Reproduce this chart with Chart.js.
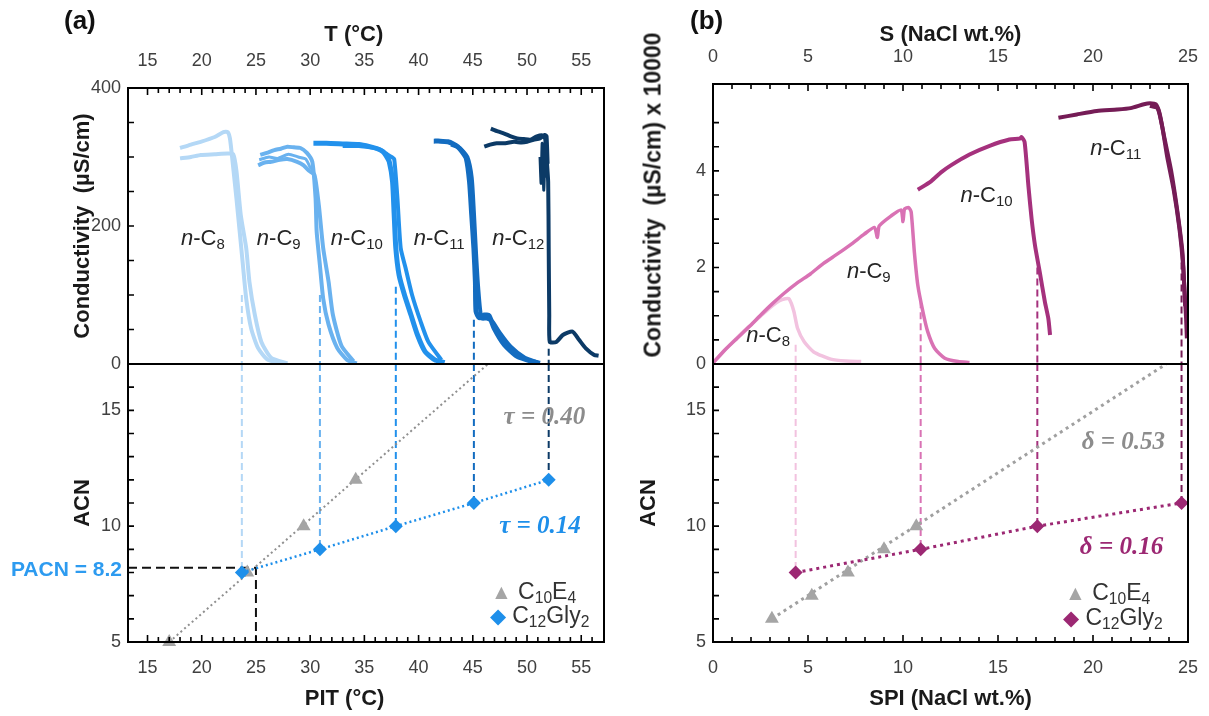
<!DOCTYPE html>
<html>
<head>
<meta charset="utf-8">
<script src="https://cdn.jsdelivr.net/npm/chart.js@4.4.1/dist/chart.umd.min.js"></script>
<style>
  body { margin: 0; background: #fff; font-family: "Liberation Sans", Arial, sans-serif; }
  #wrap { position: relative; width: 1209px; height: 716px; overflow: hidden; }
  #wrap canvas { position: absolute; top: 0; }
  .lbl { position: absolute; white-space: nowrap; line-height: 1; color: #262626; font-size: 22px; }
  .lbl sub { font-size: 0.68em; vertical-align: -0.3em; line-height: 0; }
  .panel { position: absolute; top: 5px; font-weight: bold; font-size: 26px; color: #111; }
  .coef { font-family: "Liberation Serif", "DejaVu Serif", serif; font-weight: bold; font-style: italic; font-size: 25px; }
  .ytitle { position: absolute; font-weight: bold; font-size: 23px; color: #1a1a1a; white-space: pre;
            transform: translate(-50%, -50%) rotate(-90deg); }
</style>
</head>
<body>
<div id="wrap">
  <canvas id="chartA" width="625" height="716" style="left:0"></canvas>
  <canvas id="chartB" width="584" height="716" style="left:625px"></canvas>
  <div class="panel" style="left:64px">(a)</div>
  <div class="panel" style="left:690px">(b)</div>
  <div class="ytitle" style="left:653px;top:195px">Conductivity  (µS/cm) x 10000</div>
</div>
<script>
// ── Panel (a): conductivity vs T (°C) for C12Gly2 with n-alkanes ─────────
const tC8a = [18.0, 19.0, 19.9, 21.2, 22.0, 22.4, 22.6, 22.8, 23.2, 23.5, 23.8, 24.1, 24.55, 25.2, 26.1, 27.6];
const kC8a = [313, 318, 322, 329, 336, 336, 327, 300, 240, 192, 143, 95, 52, 23, 6, 1];
const tC8b = [18.0, 19.0, 19.9, 21.2, 22.4, 22.9, 23.2, 23.6, 24.1, 24.4, 24.9, 25.5, 26.4, 27.9];
const kC8b = [298, 300, 303, 304, 305, 304, 280, 216, 168, 119, 71, 32, 9, 1];

const tC9a = [25.4, 26.0, 26.7, 27.3, 27.9, 28.5, 29.1, 29.7, 30.2, 30.5, 30.6, 30.9, 31.2, 31.7, 32.5, 33.4, 34.3];
const kC9a = [303, 306, 310, 312, 315, 314, 313, 306, 293, 240, 192, 143, 95, 57, 23, 6, 1];
const tC9b = [25.2, 25.8, 26.4, 27.2, 27.9, 28.8, 29.4, 29.9, 30.4, 30.8, 31.2, 31.7, 32.1, 32.9, 34.0];
const kC9b = [288, 292, 293, 296, 297, 293, 288, 280, 274, 230, 168, 119, 71, 26, 4];
const tC9c = [25.3, 26.2, 27.0, 28.0, 28.9, 29.6, 30.0, 30.3, 30.6];
const kC9c = [296, 300, 298, 304, 300, 297, 285, 280, 230];

const tC10a = [30.3, 31.5, 33.0, 34.5, 35.5, 36.2, 36.7, 37.0, 37.3, 37.6, 37.75, 37.9, 38.2, 38.7, 39.3, 39.9, 40.6, 41.5, 42.4];
const kC10a = [320, 320, 319, 318, 315, 312, 308, 302, 293, 264, 216, 168, 129, 100, 71, 42, 18, 6, 2];
const tC10b = [33.0, 34.5, 35.5, 36.4, 37.0, 37.5, 37.75, 38.05, 38.35, 38.8, 39.4, 40.2, 40.9, 42.1];
const kC10b = [316, 316, 314, 311, 305, 300, 297, 240, 168, 139, 100, 61, 32, 6];

const tC11a = [41.4, 42.0, 42.7, 43.2, 43.6, 44.0, 44.4, 44.7, 44.9, 45.1, 45.24, 45.3, 45.6, 46.06, 46.5, 46.96, 47.9, 49.1, 50.6, 51.2];
const kC11a = [323, 323, 322, 319, 315, 308, 298, 264, 216, 168, 119, 76, 67, 71, 70, 52, 28, 11, 3, 1];
const tC11b = [43.0, 43.8, 44.5, 44.9, 45.1, 45.3, 45.5, 45.8, 46.3, 46.8, 47.5, 48.5, 49.8, 51.0];
const kC11b = [318, 313, 300, 270, 220, 160, 110, 66, 66, 62, 45, 25, 9, 2];

const tC12a = [46.66, 47.3, 47.9, 48.5, 49.1, 49.7, 50.3, 50.9, 51.5, 51.7, 51.8, 51.95, 52.0, 52.05, 52.1, 52.7, 53.3, 54.2, 54.8, 55.4, 56.2, 56.6];
const kC12a = [341, 337, 334, 330, 327, 326, 325, 330, 331, 325, 300, 264, 168, 71, 32, 32, 42, 47, 35, 23, 13, 12];
const tC12b = [46.06, 46.6, 47.2, 48.0, 48.8, 49.5, 50.0, 50.6, 51.2, 51.65, 51.8, 51.9];
const kC12b = [315, 318, 320, 320, 322, 321, 322, 325, 327, 332, 330, 290];
const tC12c = [51.2, 51.3, 51.4, 51.55, 51.7, 51.85];
const kC12c = [300, 262, 320, 252, 330, 270];

// PIT per alkane and where the dashed drop line meets each curve
const pitA = [23.7, 30.9, 37.9, 45.1, 52.0];
const acnA = [8, 9, 10, 11, 12];
const dashTopA = [100, 100, 112, 64, 22];
const alkColA = ['#B4D8F6', '#6AB2EF', '#2291EC', '#136CC0', '#0C3A66'];

// C10E4 reference (triangles) and its linear fit
const pitRefA = [17.0, 24.2, 29.4, 34.2];
const acnRefA = [5, 8, 10, 12];
const fitRefTA = [17.0, 46.4];
const fitRefNA = [5, 17];
// PACN construction
const pacnT = [13.2, 25, 25];
const pacnN = [8.2, 8.2, 5];

// ── Panel (b): conductivity (x 10000) vs S (NaCl wt.%) ──────────────────
const sB8 = [0, 0.6, 1.2, 1.9, 2.5, 3.1, 3.5, 3.8, 4.0, 4.25, 4.45, 4.8, 5.3, 6.2, 7.0, 7.8];
const gB8 = [0.02, 0.28, 0.52, 0.78, 0.99, 1.2, 1.31, 1.35, 1.35, 1.1, 0.74, 0.46, 0.25, 0.1, 0.06, 0.05];
const sB9 = [0, 0.6, 1.26, 1.9, 2.5, 3.1, 3.73, 4.4, 5.14, 5.8, 6.55, 7.3, 7.96, 8.5, 8.65, 8.75, 9.38, 9.9, 10.0, 10.08, 10.3, 10.43, 10.6, 10.78, 11.05, 11.3, 11.67, 12.2, 12.9, 13.5];
const gB9 = [0.02, 0.28, 0.53, 0.77, 1.01, 1.24, 1.46, 1.67, 1.87, 2.08, 2.28, 2.49, 2.69, 2.83, 2.62, 2.86, 3.07, 3.19, 2.95, 3.21, 3.24, 3.15, 2.31, 1.63, 1.08, 0.67, 0.32, 0.12, 0.05, 0.03];
const sB10 = [10.78, 11.49, 12.0, 12.54, 13.5, 14.56, 15.6, 16.15, 16.24, 16.4, 16.6, 16.77, 16.95, 17.2, 17.47, 17.65, 17.74];
const gB10 = [3.61, 3.79, 3.97, 4.12, 4.34, 4.52, 4.65, 4.67, 4.7, 4.6, 3.69, 3.0, 2.45, 1.9, 1.28, 0.94, 0.6];
const sB11a = [18.18, 19.15, 20.2, 21.27, 21.98, 22.68, 23.0, 23.3, 23.5, 23.74, 24.1, 24.45, 24.71, 24.8, 24.9, 24.94];
const gB11a = [5.1, 5.17, 5.24, 5.27, 5.3, 5.38, 5.4, 5.38, 5.2, 4.72, 4.03, 3.14, 2.31, 1.63, 0.94, 0.53];
const sB11b = [23.0, 23.4, 23.65, 23.9, 24.25, 24.55, 24.75, 24.85];
const gB11b = [5.35, 5.3, 4.9, 4.3, 3.6, 2.8, 2.0, 1.2];

const spiB = [4.35, 10.93, 17.07, 24.66];
const acnB = [8, 9, 10, 11];
const dashTopB = [0.4, 1.3, 2.0, 2.1];
const alkColB = ['#F2C2DF', '#D972B4', '#A5317D', '#751C56'];

const spiRefB = [3.1, 5.2, 7.1, 9.0, 10.7];
const acnRefB = [6, 7, 8, 9, 10];
const fitRefSB = [3.1, 23.85];
const fitRefNB = [6, 17];

// ── Text annotations (data coordinates) ────────────────────────────────
const alkSubA = ['8', '9', '10', '11', '12'];
const alkLblTA = [20.1, 27.1, 34.3, 41.9, 49.2];
const alkLblKA = [182, 182, 182, 182, 182];
const alkSubB = ['8', '9', '10', '11'];
const alkLblSB = [2.9, 8.2, 14.4, 21.2];
const alkLblKB = [0.6, 1.93, 3.5, 4.47];

const GREY = '#A5A5A5';
const BLUE = '#1E8FEA';
const PLUM = '#9C2873';
const NB = '\u00a0';

const pts = (xs, ys) => xs.map((x, i) => ({ x, y: ys[i] }));

const curve = (xs, ys, color, w) => ({
  data: pts(xs, ys), showLine: true, borderColor: color, borderWidth: w || 4,
  pointRadius: 0, tension: 0.2, xAxisID: 'xT', yAxisID: 'yC'
});
const dashed = (x, y0, y1, color, upper) => ({
  data: pts([x, x], [y0, y1]), showLine: true, borderColor: color, borderWidth: 2,
  borderDash: [7, 4], pointRadius: 0, xAxisID: upper ? 'xT' : 'xB', yAxisID: upper ? 'yC' : 'yA'
});

// inside tick marks, frame and the zero line between the two halves
const framePlugin = {
  id: 'frame',
  afterDatasetsDraw(chart, args, o) {
    const { ctx, chartArea: a, scales: s } = chart;
    const on = (v, st) => Math.abs(v / st - Math.round(v / st)) < 1e-6;
    ctx.save();
    ctx.strokeStyle = '#000';
    ctx.lineWidth = 2;
    ctx.strokeRect(a.left, a.top, a.width, a.height);
    const y0 = s.yC.getPixelForValue(0);
    ctx.beginPath(); ctx.moveTo(a.left, y0); ctx.lineTo(a.right, y0); ctx.stroke();
    ctx.lineWidth = 1.6;
    ctx.beginPath();
    s.xT.ticks.forEach(t => {
      if (!on(t.value, 1)) return;
      const x = s.xT.getPixelForValue(t.value), len = on(t.value, 5) ? 7 : 5;
      ctx.moveTo(x, a.top); ctx.lineTo(x, a.top + len);
    });
    s.xB.ticks.forEach(t => {
      if (!on(t.value, 1)) return;
      const x = s.xB.getPixelForValue(t.value), len = on(t.value, 5) ? 7 : 5;
      ctx.moveTo(x, a.bottom); ctx.lineTo(x, a.bottom - len);
    });
    [['yC', o.cStep], ['yA', 1]].forEach(([id, st]) => {
      s[id].ticks.forEach(t => {
        if (!on(t.value, st)) return;
        const y = s[id].getPixelForValue(t.value);
        ctx.moveTo(a.left, y); ctx.lineTo(a.left + 6, y);
      });
    });
    ctx.stroke();
    ctx.restore();
  }
};

const tickFont = { family: 'Liberation Sans', size: 18 };
const titleFont = { family: 'Liberation Sans', size: 22, weight: 'bold' };
const onFive = v => Math.abs(v / 5 - Math.round(v / 5)) < 1e-6;

function makePanel(id, p) {
  const xScale = (pos, title) => ({
    type: 'linear', position: pos, min: p.xMin, max: p.xMax,
    grid: { display: false, drawTicks: false }, border: { display: false },
    ticks: { stepSize: 1, autoSkip: false, maxRotation: 0, color: '#404040', font: tickFont,
             padding: pos === 'top' ? 16 : 15, callback: v => (onFive(v) ? Math.round(v) : '') },
    title: { display: true, text: title, color: '#1a1a1a', font: titleFont },
    afterFit: s => {
      s.height = pos === 'top' ? p.topH : p.botH;
      s.paddingLeft = 0; s.paddingRight = 0;
    }
  });
  const yBase = {
    type: 'linear', position: 'left', stack: 'p',
    grid: { display: false, drawTicks: false }, border: { display: false },
    afterFit: s => { s.width = p.yW; s.paddingTop = 0; s.paddingBottom = 0; }
  };
  return new Chart(document.getElementById(id), {
    type: 'scatter',
    data: { datasets: p.datasets },
    options: {
      responsive: false, animation: false, events: [],
      layout: { padding: p.pad },
      plugins: { legend: { display: false }, tooltip: { enabled: false }, frame: { cStep: p.cStep } },
      scales: {
        yA: Object.assign({}, yBase, {
          min: 5, max: 17, stackWeight: 278,
          ticks: { stepSize: 1, autoSkip: false, color: '#404040', font: tickFont, padding: 7,
                   callback: v => (v % 5 === 0 ? v : '') },
          title: { display: true, text: 'ACN', color: '#1a1a1a', font: titleFont }
        }),
        yC: Object.assign({}, yBase, {
          min: 0, max: p.cMax, stackWeight: p.cWeight,
          ticks: { stepSize: p.cStep, autoSkip: false, color: '#404040', font: tickFont, padding: 7,
                   callback: v => (Math.abs(v % p.cLabel) < 1e-9 ? v : '') },
          title: { display: !!p.cTitle, text: p.cTitle, color: '#1a1a1a', font: titleFont }
        }),
        xT: xScale('top', p.topTitle),
        xB: xScale('bottom', p.botTitle)
      }
    },
    plugins: [framePlugin]
  });
}

// ── datasets (a) ──
const dsA = [
  { data: pts(pitA, acnA), showLine: true, borderColor: BLUE, borderWidth: 2.5, borderDash: [2, 3],
    pointStyle: 'rectRot', pointRadius: 7, pointBackgroundColor: BLUE, pointBorderWidth: 0,
    xAxisID: 'xB', yAxisID: 'yA', clip: false },
  { data: pts(pitRefA, acnRefA), showLine: false, pointStyle: 'triangle', pointRadius: 8,
    pointBackgroundColor: GREY, pointBorderWidth: 0, xAxisID: 'xB', yAxisID: 'yA', clip: false },
  { data: pts(fitRefTA, fitRefNA), showLine: true, borderColor: '#8F8F8F', borderWidth: 2,
    borderDash: [2, 3], pointRadius: 0, xAxisID: 'xB', yAxisID: 'yA' },
  { data: pts(pacnT, pacnN), showLine: true, borderColor: '#111', borderWidth: 2,
    borderDash: [9, 5], pointRadius: 0, xAxisID: 'xB', yAxisID: 'yA' },
  curve(tC12c, kC12c, alkColA[4], 3),
  curve(tC12a, kC12a, alkColA[4], 4),
  curve(tC12b, kC12b, alkColA[4], 4),
  curve(tC11a, kC11a, alkColA[3], 5),
  curve(tC11b, kC11b, alkColA[3], 4),
  curve(tC10a, kC10a, alkColA[2], 5),
  curve(tC10b, kC10b, alkColA[2], 4),
  curve(tC9a, kC9a, alkColA[1], 4),
  curve(tC9b, kC9b, alkColA[1], 4),
  curve(tC9c, kC9c, alkColA[1], 3),
  curve(tC8a, kC8a, alkColA[0], 4),
  curve(tC8b, kC8b, alkColA[0], 4)
];
pitA.forEach((t, i) => {
  dsA.push(dashed(t, dashTopA[i], 0, alkColA[i], true));
  dsA.push(dashed(t, 17, acnA[i], alkColA[i], false));
});

// ── datasets (b) ──
const dsB = [
  { data: pts(spiB, acnB), showLine: true, borderColor: PLUM, borderWidth: 3, borderDash: [3, 4],
    pointStyle: 'rectRot', pointRadius: 7, pointBackgroundColor: PLUM, pointBorderWidth: 0,
    xAxisID: 'xB', yAxisID: 'yA', clip: false },
  { data: pts(spiRefB, acnRefB), showLine: false, pointStyle: 'triangle', pointRadius: 8,
    pointBackgroundColor: GREY, pointBorderWidth: 0, xAxisID: 'xB', yAxisID: 'yA', clip: false },
  { data: pts(fitRefSB, fitRefNB), showLine: true, borderColor: '#A0A0A0', borderWidth: 3,
    borderDash: [3, 4], pointRadius: 0, xAxisID: 'xB', yAxisID: 'yA' },
  curve(sB11b, gB11b, alkColB[3], 4),
  curve(sB11a, gB11a, alkColB[3], 4),
  curve(sB10, gB10, alkColB[2], 4),
  curve(sB9, gB9, alkColB[1], 3.5),
  curve(sB8, gB8, alkColB[0], 3.5)
];
spiB.forEach((s, i) => {
  dsB.push(dashed(s, dashTopB[i], 0, alkColB[i], true));
  dsB.push(dashed(s, 17, acnB[i], alkColB[i], false));
});

// (a) axis titles sit a little left of the plot centre in the original
const chartA = makePanel('chartA', {
  xMin: 13.2, xMax: 57.1, cMax: 400, cStep: 50, cLabel: 200, cWeight: 276,
  topTitle: 'T (°C)' + NB.repeat(4), botTitle: 'PIT (°C)' + NB.repeat(7), cTitle: 'Conductivity  (µS/cm)',
  pad: { left: 66, right: 21, top: 18, bottom: 0 }, yW: 62, topH: 70, botH: 74, datasets: dsA
});
const chartB = makePanel('chartB', {
  xMin: 0, xMax: 25, cMax: 5.8, cStep: 0.5, cLabel: 2, cWeight: 280,
  topTitle: 'S (NaCl wt.%)', botTitle: 'SPI (NaCl wt.%)', cTitle: '',
  pad: { left: 7, right: 21, top: 18, bottom: 0 }, yW: 81, topH: 66, botH: 74, datasets: dsB
});

// ── HTML labels placed through the chart scales ──
const wrap = document.getElementById('wrap');
function addLabel(chart, offX, xId, yId, xv, yv, html, cls, style, anchor) {
  const d = document.createElement('div');
  d.className = 'lbl ' + (cls || '');
  d.innerHTML = html;
  Object.assign(d.style, style || {});
  d.style.left = (chart.scales[xId].getPixelForValue(xv) + offX) + 'px';
  d.style.top = chart.scales[yId].getPixelForValue(yv) + 'px';
  d.style.transform = anchor === 'r' ? 'translate(calc(-100% - 6px), -50%)'
                    : anchor === 'l' ? 'translate(-9px, -50%)' : 'translate(-50%, -50%)';
  wrap.appendChild(d);
}

alkSubA.forEach((n, i) => addLabel(chartA, 0, 'xT', 'yC', alkLblTA[i], alkLblKA[i], `<i>n</i>-C<sub>${n}</sub>`));
alkSubB.forEach((n, i) => addLabel(chartB, 625, 'xT', 'yC', alkLblSB[i], alkLblKB[i], `<i>n</i>-C<sub>${n}</sub>`));

addLabel(chartA, 0, 'xB', 'yA', 51.6, 14.8, 'τ = 0.40', 'coef', { color: '#8C8C8C' });
addLabel(chartA, 0, 'xB', 'yA', 51.2, 10.1, 'τ = 0.14', 'coef', { color: BLUE });
addLabel(chartB, 625, 'xB', 'yA', 21.6, 13.7, 'δ = 0.53', 'coef', { color: '#8C8C8C' });
addLabel(chartB, 625, 'xB', 'yA', 21.5, 9.2, 'δ = 0.16', 'coef', { color: PLUM });
addLabel(chartA, 0, 'xB', 'yA', 13.2, 8.2, 'PACN = 8.2', '', { color: '#2D9BF0', fontWeight: 'bold', fontSize: '21px' }, 'r');

const legendA = [[47.5, 7.2, GREY, '▲', 'C<sub>10</sub>E<sub>4</sub>'], [47.4, 6.15, BLUE, '◆', 'C<sub>12</sub>Gly<sub>2</sub>']];
const legendB = [[19.0, 7.15, GREY, '▲', 'C<sub>10</sub>E<sub>4</sub>'], [18.9, 6.1, PLUM, '◆', 'C<sub>12</sub>Gly<sub>2</sub>']];
const legendHtml = (c, m, t) => `<span style="color:${c};font-size:21px">${m}</span>&nbsp;${t}`;
legendA.forEach(([x, y, c, m, t]) => addLabel(chartA, 0, 'xB', 'yA', x, y, legendHtml(c, m, t), '', { color: '#333', fontSize: '23px' }, 'l'));
legendB.forEach(([x, y, c, m, t]) => addLabel(chartB, 625, 'xB', 'yA', x, y, legendHtml(c, m, t), '', { color: '#333', fontSize: '23px' }, 'l'));
</script>
</body>
</html>
